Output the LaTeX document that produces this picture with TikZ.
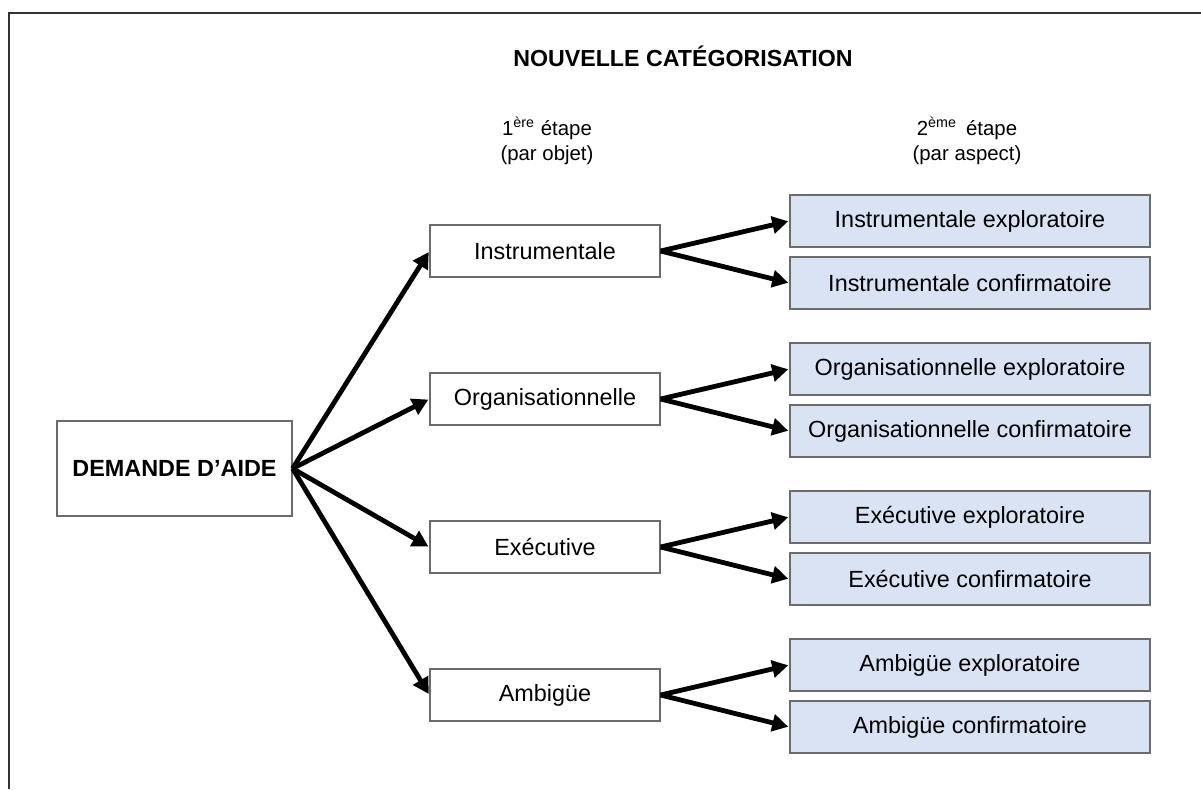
\documentclass[tikz,border=0pt]{standalone}
\usepackage{fontspec}
\setmainfont{Liberation Sans}
\usetikzlibrary{arrows.meta}
\definecolor{subfill}{HTML}{DAE3F3}
\definecolor{boxline}{HTML}{6B6B6B}
\definecolor{frameline}{HTML}{333333}
\begin{document}
\begin{tikzpicture}[x=0.5pt,y=-0.5pt,
  txt/.style={font=\fontsize{11.7}{14}\selectfont, inner sep=0pt},
  box/.style={txt, draw=boxline, line width=0.6pt, minimum width=115pt, minimum height=26pt, fill=white},
  sub/.style={box, fill=subfill, minimum width=180pt},
  arr/.style={line width=2.4pt, shorten >=0.6pt, -{Triangle[length=8pt,width=8.5pt]}}]
\useasboundingbox (0,0) rectangle (1201,789);
% frame
\draw[frameline, line width=0.6pt] (9,789) -- (9,13) -- (1201,13);
% headings
\node[font=\fontsize{11.6}{14}\selectfont\bfseries, inner sep=0pt] (title) at (683,56) {NOUVELLE CATÉGORISATION};
\node[txt, align=center, font=\fontsize{10.2}{12.6}\selectfont] (e1) at (547,141) {1\textsuperscript{ère} étape\\(par objet)};
\node[txt, align=center, font=\fontsize{10.2}{12.6}\selectfont] (e2) at (967,141) {2\textsuperscript{ème}\, étape\\(par aspect)};
% root
\node[box, minimum width=117.5pt, minimum height=47.5pt, font=\fontsize{11.7}{14}\selectfont\bfseries] (dem) at (174.5,468.5) {DEMANDE D’AIDE};
% first step
\node[box] (m1) at (545,251) {Instrumentale};
\node[box] (m2) at (545,399) {Organisationnelle};
\node[box] (m3) at (545,547) {Exécutive};
\node[box] (m4) at (545,695) {Ambigüe};
% second step
\node[sub] (s1a) at (970,221) {Instrumentale exploratoire};
\node[sub] (s1b) at (970,283) {Instrumentale confirmatoire};
\node[sub] (s2a) at (970,369) {Organisationnelle exploratoire};
\node[sub] (s2b) at (970,431) {Organisationnelle confirmatoire};
\node[sub] (s3a) at (970,517) {Exécutive exploratoire};
\node[sub] (s3b) at (970,579) {Exécutive confirmatoire};
\node[sub] (s4a) at (970,665) {Ambigüe exploratoire};
\node[sub] (s4b) at (970,727) {Ambigüe confirmatoire};
% connectors
\foreach \m in {m1,m2,m3,m4}
  \draw[arr] (dem.east) -- (\m.west);
\foreach \i in {1,2,3,4}{
  \draw[arr] (m\i.east) -- (s\i a.west);
  \draw[arr] (m\i.east) -- (s\i b.west);
}
\end{tikzpicture}
\end{document}
